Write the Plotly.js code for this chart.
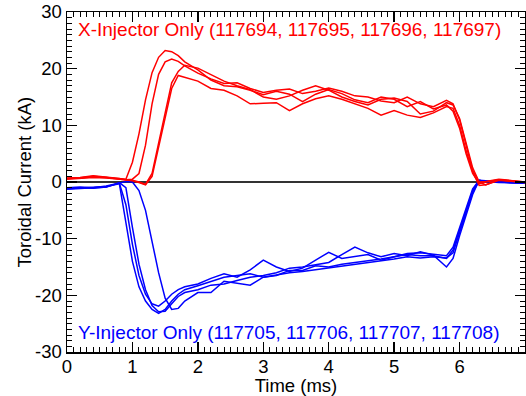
<!DOCTYPE html>
<html>
<head>
<meta charset="utf-8">
<script src="https://cdn.plot.ly/plotly-3.0.1.min.js"></script>
<style>html,body{margin:0;padding:0;background:#fff;}#chart{width:526px;height:396px;}</style>
</head>
<body>
<div id="chart"></div>
<script>
// Time (ms)
const time = [0, 0.2, 0.4, 0.6, 0.8, 0.9, 1.0, 1.1, 1.2, 1.3, 1.4, 1.5, 1.6, 1.7, 1.8, 2.0, 2.2, 2.4, 2.6, 2.8, 3.0, 3.2, 3.4, 3.6, 3.8, 4.0, 4.2, 4.4, 4.6, 4.8, 5.0, 5.2, 5.4, 5.6, 5.8, 5.9, 6.0, 6.1, 6.2, 6.3, 6.4, 6.6, 6.8, 7.0];

// X-Injector shots (kA)
const x117694 = [0.6, 0.7, 1.0, 0.8, 0.6, 0.5, 3.5, 8.5, 14.5, 19.3, 22.0, 23.2, 23.0, 22.3, 21.2, 19.8, 18.0, 17.0, 16.8, 16.2, 15.4, 16.0, 15.5, 14.2, 15.5, 16.3, 15.6, 14.5, 14.0, 15.0, 14.6, 13.3, 14.2, 12.9, 13.6, 12.5, 9.5, 5.0, 1.5, -0.3, 0.0, 0.4, 0.2, 0.0];
const x117695 = [0.5, 0.6, 0.8, 0.7, 0.5, 0.4, 0.5, 1.5, 6.5, 13.8, 19.0, 21.2, 21.7, 21.3, 20.5, 19.2, 18.2, 17.4, 17.5, 16.5, 15.8, 16.2, 16.4, 15.6, 16.0, 16.6, 16.0, 15.2, 15.0, 14.3, 14.0, 15.0, 13.8, 13.3, 14.4, 13.8, 11.0, 6.5, 2.0, 0.0, 0.1, 0.5, 0.3, 0.0];
const x117696 = [0.7, 0.8, 1.1, 0.9, 0.6, 0.4, 0.3, 0.0, -0.4, 1.5, 7.0, 12.5, 17.5, 19.5, 20.6, 20.1, 19.0, 17.8, 17.0, 16.3, 15.0, 14.6, 15.2, 16.2, 17.0, 16.2, 15.0, 14.2, 13.6, 14.6, 14.8, 14.2, 12.0, 12.5, 14.0, 13.6, 11.2, 7.0, 2.5, 0.0, -0.5, 0.4, 0.2, -0.1];
const x117697 = [0.6, 0.7, 0.9, 0.8, 0.5, 0.3, 0.2, -0.1, -0.5, 1.0, 6.0, 11.5, 16.5, 18.8, 18.5, 17.8, 16.5, 16.2, 15.2, 13.8, 13.9, 14.0, 12.6, 13.8, 14.7, 15.2, 14.6, 13.8, 13.0, 11.8, 12.6, 11.8, 11.4, 12.2, 13.3, 13.0, 10.0, 5.5, 1.8, -0.6, -0.5, 0.3, 0.1, -0.1];

// Y-Injector shots (kA)
const y117705 = [-1.2, -1.1, -1.0, -0.8, -0.3, -7.0, -14.0, -18.5, -21.0, -22.5, -23.2, -22.5, -21.0, -19.8, -19.0, -18.3, -17.5, -16.8, -16.5, -16.2, -16.8, -16.5, -15.6, -15.6, -14.8, -15.0, -14.5, -14.2, -14.0, -13.6, -13.2, -12.8, -13.0, -13.0, -13.5, -12.0, -8.5, -5.0, -1.5, 0.3, 0.1, 0.0, -0.1, -0.2];
const y117706 = [-1.0, -0.9, -1.0, -0.7, -0.2, -4.0, -11.0, -16.5, -19.8, -21.5, -21.9, -21.0, -19.8, -19.0, -18.5, -18.0, -17.0, -16.2, -16.8, -15.5, -13.8, -15.0, -15.8, -15.2, -13.8, -12.4, -13.5, -13.2, -12.8, -13.8, -13.2, -12.6, -12.5, -12.8, -13.0, -11.5, -8.0, -4.5, -1.2, 0.3, 0.2, 0.0, -0.1, -0.2];
const y117707 = [-1.1, -1.0, -1.1, -0.9, -0.1, -1.0, -8.0, -14.5, -19.0, -21.8, -22.9, -22.8, -21.5, -20.2, -19.5, -19.0, -18.2, -18.0, -17.4, -16.8, -16.5, -16.0, -15.2, -15.0, -14.6, -14.2, -12.8, -11.5, -12.5, -13.2, -12.6, -13.0, -12.3, -12.9, -15.0, -13.5, -9.5, -6.0, -2.2, 0.3, 0.1, -0.1, -0.1, -0.2];
const y117708 = [-1.3, -1.2, -1.1, -0.9, -0.2, 0.1, 0.0, -1.5, -5.0, -10.5, -16.0, -20.5, -22.5, -22.3, -21.0, -19.5, -19.5, -17.5, -17.8, -18.2, -16.8, -16.4, -16.0, -15.8, -15.5, -15.2, -14.8, -14.6, -14.3, -14.0, -13.6, -13.2, -13.4, -13.2, -13.4, -12.5, -9.0, -5.5, -1.8, 0.2, 0.1, 0.0, -0.1, -0.2];

// Y tick values and labels (hyphen minus as in the original)
const yTickVals = [-30, -20, -10, 0, 10, 20, 30];
const yTickText = ['-30', '-20', '-10', '0', '10', '20', '30'];

const xLabel = 'X-Injector Only (117694, 117695, 117696, 117697)';
const yLabel = 'Y-Injector Only (117705, 117706, 117707, 117708)';
const yTitle = 'Toroidal Current (kA)';

const RED = '#ff0000', BLUE = '#0000ff';
const blueSeries = [y117705, y117706, y117707, y117708];
const redSeries = [x117694, x117695, x117696, x117697];

const traces = [];
blueSeries.forEach(s => traces.push({x: time, y: s, mode: 'lines', line: {color: BLUE, width: 1.5}, showlegend: false, hoverinfo: 'skip'}));
redSeries.forEach(s => traces.push({x: time, y: s, mode: 'lines', line: {color: RED, width: 1.5}, showlegend: false, hoverinfo: 'skip'}));

const FONT = 'Liberation Sans, Arial, Helvetica, sans-serif';
const axisCommon = {
  showline: true, linecolor: '#000', linewidth: 1.5, mirror: 'ticks',
  ticks: 'inside', ticklen: 10, tickwidth: 1.5, tickcolor: '#000',
  showgrid: false,
  tickfont: {family: FONT, size: 18.5, color: '#000'}
};

const layout = {
  width: 526, height: 396,
  margin: {l: 67, r: 1, t: 12, b: 44},
  paper_bgcolor: '#fff', plot_bgcolor: '#fff',
  font: {family: FONT, size: 18, color: '#000'},
  xaxis: Object.assign({}, axisCommon, {
    range: [0, 7], dtick: 1, tick0: 0, zeroline: false,
    ticklabelstandoff: -3,
    minor: {ticks: 'inside', ticklen: 5, tickwidth: 1, dtick: 0.1, tickcolor: '#000', showgrid: false},
    title: {text: 'Time (ms)', font: {family: FONT, size: 18.5, color: '#000'}, standoff: 0}
  }),
  yaxis: Object.assign({}, axisCommon, {
    range: [-30, 30], tickmode: 'array', tickvals: yTickVals, ticktext: yTickText,
    zeroline: true, zerolinecolor: '#333', zerolinewidth: 1.5,
    ticklabelstandoff: 0,
    minor: {ticks: 'inside', ticklen: 5, tickwidth: 1, dtick: 1, tickcolor: '#000', showgrid: false}
  }),
  annotations: [
    {x: 0.145, y: 27, xref: 'x', yref: 'y', xanchor: 'left', yanchor: 'middle', showarrow: false,
     text: xLabel, font: {family: FONT, size: 19, color: RED}},
    {x: 0.145, y: -26.6, xref: 'x', yref: 'y', xanchor: 'left', yanchor: 'middle', showarrow: false,
     text: yLabel, font: {family: FONT, size: 19, color: BLUE}},
    {x: -0.0928, y: 0.5, xref: 'paper', yref: 'paper', xanchor: 'center', yanchor: 'middle', showarrow: false,
     textangle: -90, text: yTitle, font: {family: FONT, size: 18.5, color: '#000'}}
  ]
};

Plotly.newPlot('chart', traces, layout, {staticPlot: true, displayModeBar: false});
</script>
</body>
</html>
